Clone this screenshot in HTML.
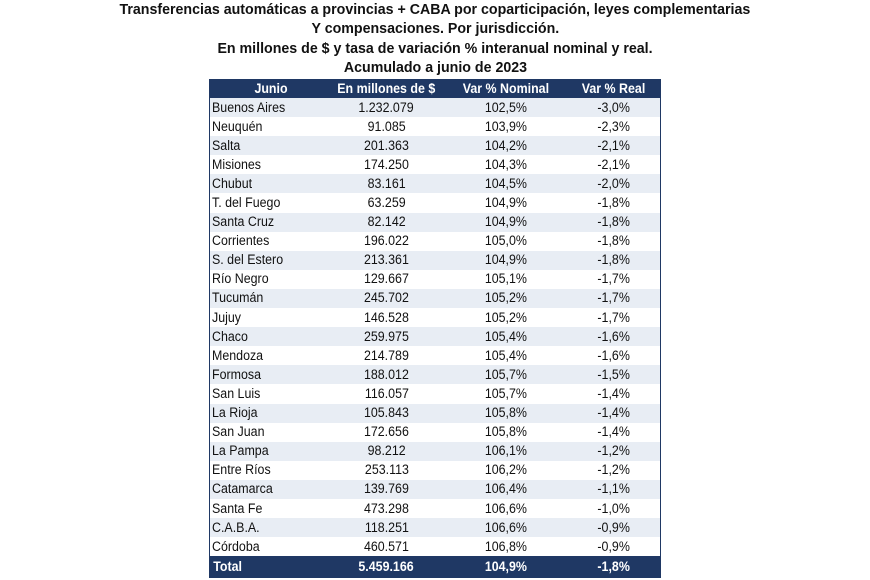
<!DOCTYPE html>
<html><head><meta charset="utf-8"><style>
body{margin:0;width:870px;height:580px;background:#fff;font-family:"Liberation Sans",sans-serif;overflow:hidden;position:relative;color:#111}
.t{position:absolute;left:0;width:870px;text-align:center;font-weight:bold;font-size:14.5px;line-height:18px}
.t span{display:inline-block;transform:scaleX(0.98);white-space:nowrap}
table{position:absolute;left:209px;top:79px;width:452px;border-collapse:collapse;font-size:13.5px;border:1px solid #1f3864}
td{height:19.1px;padding:0;line-height:18px;white-space:nowrap}
td span{display:inline-block;transform:scaleX(0.92);transform-origin:left center}
thead td{background:#1f3864 !important;color:#fff;font-weight:bold;text-align:center;height:18px}
thead td span,tr.f td span{transform-origin:center}
tbody tr:nth-child(odd) td{background:#e8edf4}
td:nth-child(1){width:118px;padding-left:2px}
td:nth-child(2){width:113px;text-align:center}
td:nth-child(3){width:125px;text-align:center}
td:nth-child(4){text-align:center}
td:not(:first-child) span{transform-origin:center}
tr.f td{background:#1f3864 !important;color:#fff;font-weight:bold;height:21px}
</style></head><body>
<div class="t" style="top:1px"><span>Transferencias automáticas a provincias + CABA por coparticipación, leyes complementarias</span></div>
<div class="t" style="top:20px"><span>Y compensaciones. Por jurisdicción.</span></div>
<div class="t" style="top:40px"><span>En millones de $ y tasa de variación % interanual nominal y real.</span></div>
<div class="t" style="top:59px"><span>Acumulado a junio de 2023</span></div>
<table>
<thead><tr><td style="text-align:center"><span>Junio</span></td><td><span>En millones de $</span></td><td><span>Var % Nominal</span></td><td><span>Var % Real</span></td></tr></thead>
<tbody>
<tr><td><span>Buenos Aires</span></td><td><span>1.232.079</span></td><td><span>102,5%</span></td><td><span>-3,0%</span></td></tr>
<tr><td><span>Neuquén</span></td><td><span>91.085</span></td><td><span>103,9%</span></td><td><span>-2,3%</span></td></tr>
<tr><td><span>Salta</span></td><td><span>201.363</span></td><td><span>104,2%</span></td><td><span>-2,1%</span></td></tr>
<tr><td><span>Misiones</span></td><td><span>174.250</span></td><td><span>104,3%</span></td><td><span>-2,1%</span></td></tr>
<tr><td><span>Chubut</span></td><td><span>83.161</span></td><td><span>104,5%</span></td><td><span>-2,0%</span></td></tr>
<tr><td><span>T. del Fuego</span></td><td><span>63.259</span></td><td><span>104,9%</span></td><td><span>-1,8%</span></td></tr>
<tr><td><span>Santa Cruz</span></td><td><span>82.142</span></td><td><span>104,9%</span></td><td><span>-1,8%</span></td></tr>
<tr><td><span>Corrientes</span></td><td><span>196.022</span></td><td><span>105,0%</span></td><td><span>-1,8%</span></td></tr>
<tr><td><span>S. del Estero</span></td><td><span>213.361</span></td><td><span>104,9%</span></td><td><span>-1,8%</span></td></tr>
<tr><td><span>Río Negro</span></td><td><span>129.667</span></td><td><span>105,1%</span></td><td><span>-1,7%</span></td></tr>
<tr><td><span>Tucumán</span></td><td><span>245.702</span></td><td><span>105,2%</span></td><td><span>-1,7%</span></td></tr>
<tr><td><span>Jujuy</span></td><td><span>146.528</span></td><td><span>105,2%</span></td><td><span>-1,7%</span></td></tr>
<tr><td><span>Chaco</span></td><td><span>259.975</span></td><td><span>105,4%</span></td><td><span>-1,6%</span></td></tr>
<tr><td><span>Mendoza</span></td><td><span>214.789</span></td><td><span>105,4%</span></td><td><span>-1,6%</span></td></tr>
<tr><td><span>Formosa</span></td><td><span>188.012</span></td><td><span>105,7%</span></td><td><span>-1,5%</span></td></tr>
<tr><td><span>San Luis</span></td><td><span>116.057</span></td><td><span>105,7%</span></td><td><span>-1,4%</span></td></tr>
<tr><td><span>La Rioja</span></td><td><span>105.843</span></td><td><span>105,8%</span></td><td><span>-1,4%</span></td></tr>
<tr><td><span>San Juan</span></td><td><span>172.656</span></td><td><span>105,8%</span></td><td><span>-1,4%</span></td></tr>
<tr><td><span>La Pampa</span></td><td><span>98.212</span></td><td><span>106,1%</span></td><td><span>-1,2%</span></td></tr>
<tr><td><span>Entre Ríos</span></td><td><span>253.113</span></td><td><span>106,2%</span></td><td><span>-1,2%</span></td></tr>
<tr><td><span>Catamarca</span></td><td><span>139.769</span></td><td><span>106,4%</span></td><td><span>-1,1%</span></td></tr>
<tr><td><span>Santa Fe</span></td><td><span>473.298</span></td><td><span>106,6%</span></td><td><span>-1,0%</span></td></tr>
<tr><td><span>C.A.B.A.</span></td><td><span>118.251</span></td><td><span>106,6%</span></td><td><span>-0,9%</span></td></tr>
<tr><td><span>Córdoba</span></td><td><span>460.571</span></td><td><span>106,8%</span></td><td><span>-0,9%</span></td></tr>
<tr class="f"><td><span>Total</span></td><td><span>5.459.166</span></td><td><span>104,9%</span></td><td><span>-1,8%</span></td></tr>
</tbody>
</table>
</body></html>
